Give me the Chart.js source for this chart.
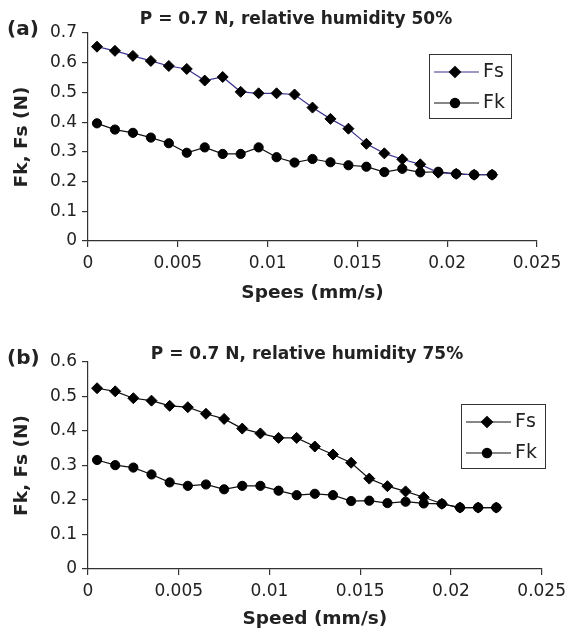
<!DOCTYPE html>
<html>
<head>
<meta charset="utf-8">
<script src="https://cdn.jsdelivr.net/npm/chart.js@4.4.1/dist/chart.umd.min.js"></script>
<style>
  body { margin: 0; background: #fff; }
  canvas { display: block; }
</style>
</head>
<body>
<canvas id="js--chart--a" width="572" height="310"></canvas>
<canvas id="js--chart--b" width="572" height="320"></canvas>
<script>
// speed (mm/s) of each measuring point
const speed = [0.0005, 0.0015, 0.0025, 0.0035, 0.0045, 0.0055, 0.0065, 0.0075, 0.0085, 0.0095, 0.0105, 0.0115,
  0.0125, 0.0135, 0.0145, 0.0155, 0.0165, 0.0175, 0.0185, 0.0195, 0.0205, 0.0215, 0.0225];

// (a) relative humidity 50%
const fs50 = [0.654, 0.640, 0.623, 0.606, 0.589, 0.579, 0.540, 0.552, 0.502, 0.497, 0.497, 0.493,
  0.449, 0.411, 0.378, 0.327, 0.295, 0.275, 0.258, 0.230, 0.226, 0.223, 0.223];
const fk50 = [0.396, 0.375, 0.364, 0.348, 0.329, 0.297, 0.315, 0.293, 0.293, 0.315, 0.282, 0.264,
  0.276, 0.265, 0.255, 0.250, 0.232, 0.243, 0.231, 0.233, 0.226, 0.223, 0.223];

// (b) relative humidity 75%
const fs75 = [0.524, 0.515, 0.495, 0.488, 0.473, 0.469, 0.450, 0.435, 0.407, 0.393, 0.380, 0.380,
  0.355, 0.332, 0.308, 0.262, 0.240, 0.225, 0.208, 0.189, 0.178, 0.178, 0.178];
const fk75 = [0.316, 0.301, 0.294, 0.274, 0.251, 0.241, 0.245, 0.231, 0.241, 0.241, 0.227, 0.214,
  0.218, 0.214, 0.197, 0.198, 0.191, 0.195, 0.190, 0.189, 0.178, 0.178, 0.178];

const seriesLabels = ["Fs", "Fk"];
const xMax = 0.025;
const xStep = 0.005;
const yStep = 0.1;

Chart.defaults.font.family = "'DejaVu Sans', sans-serif";
Chart.defaults.color = "#222";

function points(values) {
  return values.map(function (v, i) {
    return { x: speed[i], y: v };
  });
}

// title, panel letter and boxed legend
const annotate = {
  id: "annotate",
  afterDraw: function (chart) {
    const o = chart.options.plugins.annotate;
    const ctx = chart.ctx;
    ctx.save();
    ctx.textBaseline = "middle";
    ctx.fillStyle = "#222";
    ctx.textAlign = "left";
    ctx.font = "bold 20px 'DejaVu Sans'";
    ctx.fillText(o.panel, 7, o.panelY);
    ctx.textAlign = "center";
    ctx.font = "bold 17px 'DejaVu Sans'";
    ctx.fillText(o.title, o.titleX, o.titleY);

    const b = o.box;
    ctx.strokeStyle = "#333";
    ctx.lineWidth = 1;
    ctx.strokeRect(b.x + 0.5, b.y + 0.5, b.w, b.h);
    chart.data.datasets.forEach(function (ds, i) {
      const y = b.y + (i === 0 ? 18 : 49);
      ctx.strokeStyle = ds.borderColor;
      ctx.lineWidth = ds.borderWidth;
      ctx.beginPath();
      ctx.moveTo(b.x + 5, y);
      ctx.lineTo(b.x + 50, y);
      ctx.stroke();
      ctx.fillStyle = ds.pointBackgroundColor;
      ctx.strokeStyle = ds.pointBorderColor;
      Chart.helpers.drawPoint(ctx, {
        pointStyle: ds.pointStyle,
        radius: ds.pointRadius,
        borderWidth: 1,
        rotation: 0
      }, b.x + 26, y);
      ctx.fillStyle = "#222";
      ctx.font = "19px 'DejaVu Sans'";
      ctx.textAlign = "left";
      ctx.fillText(ds.label, b.x + 54, y);
    });
    ctx.restore();
  }
};

function makeChart(id, fs, fk, yMax, fsColor, xTitle, layout, extra) {
  const config = {
    type: "line",
    data: {
      datasets: [
        {
          label: seriesLabels[0],
          data: points(fs),
          borderColor: fsColor,
          borderWidth: 1.2,
          pointStyle: "rectRot",
          pointRadius: 5.5,
          pointBackgroundColor: "#000",
          pointBorderColor: "#000",
          pointBorderWidth: 1
        },
        {
          label: seriesLabels[1],
          data: points(fk),
          borderColor: "#111",
          borderWidth: 1.2,
          pointStyle: "circle",
          pointRadius: 4.6,
          pointBackgroundColor: "#000",
          pointBorderColor: "#000",
          pointBorderWidth: 1
        }
      ]
    },
    options: {
      responsive: false,
      animation: false,
      events: [],
      layout: { padding: { top: layout.top, right: layout.right, left: 0, bottom: 0 } },
      plugins: {
        legend: { display: false },
        title: { display: false },
        tooltip: { enabled: false },
        annotate: extra
      },
      scales: {
        x: {
          type: "linear",
          min: 0,
          max: xMax,
          afterFit: function (scale) { scale.height = layout.xHeight; },
          ticks: {
            stepSize: xStep,
            padding: 6,
            font: { size: 17 },
            callback: function (v) { return String(+v.toFixed(3)); }
          },
          grid: { drawOnChartArea: false, tickLength: 6, color: "#333", lineWidth: 1.2 },
          border: { display: true, color: "#333", width: 1.2 },
          title: {
            display: true,
            text: xTitle,
            font: { size: 18.5, weight: "bold" },
            padding: { top: 0, bottom: layout.xTitlePad }
          }
        },
        y: {
          min: 0,
          max: yMax,
          afterFit: function (scale) { scale.width = 88; },
          ticks: {
            stepSize: yStep,
            padding: 5,
            font: { size: 17 },
            callback: function (v) { return String(+v.toFixed(1)); }
          },
          grid: { drawOnChartArea: false, tickLength: 6, color: "#333", lineWidth: 1.2 },
          border: { display: true, color: "#333", width: 1.2 },
          title: {
            display: true,
            text: "Fk, Fs (N)",
            font: { size: 18.5, weight: "bold" },
            padding: { top: 11, bottom: 0 }
          }
        }
      }
    },
    plugins: [annotate]
  };
  return new Chart(document.getElementById(id), config);
}

makeChart("js--chart--a", fs50, fk50, 0.7, "#3b3591", "Spees (mm/s)",
  { top: 33, right: 35, xHeight: 69, xTitlePad: 6 },
  {
    panel: "(a)", panelY: 29.5,
    title: "P = 0.7 N, relative humidity 50%", titleX: 296, titleY: 20,
    box: { x: 429, y: 54, w: 82, h: 64 }
  });

makeChart("js--chart--b", fs75, fk75, 0.6, "#111", "Speed (mm/s)",
  { top: 52, right: 27, xHeight: 61, xTitlePad: 0 },
  {
    panel: "(b)", panelY: 48.5,
    title: "P = 0.7 N, relative humidity 75%", titleX: 307, titleY: 45,
    box: { x: 461, y: 94, w: 84, h: 64 }
  });
</script>
</body>
</html>
